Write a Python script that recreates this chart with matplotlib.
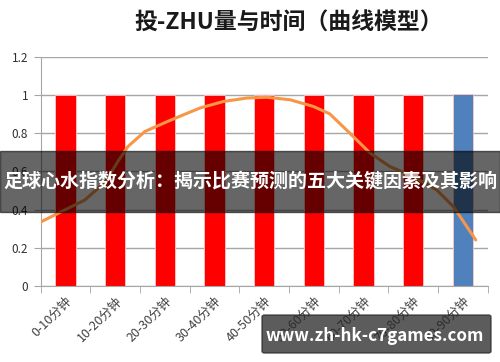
import numpy as np
import matplotlib.pyplot as plt
from matplotlib.patches import Rectangle, FancyBboxPatch

plt.rcParams['font.family'] = ['Noto Sans CJK SC', 'DejaVu Sans']

# data
categories = ['0-10分钟', '10-20分钟', '20-30分钟', '30-40分钟', '40-50分钟',
              '50-60分钟', '60-70分钟', '70-80分钟', '80-90分钟']
bar_values = [1, 1, 1, 1, 1, 1, 1, 1, 1.005]
bar_colors = ['#FF0000'] * 8 + ['#4F81BD']

# smooth curve (x in category units)
curve_x = [-0.48, -0.08, 0.39, 0.80, 1.06, 1.26, 1.60, 2.07, 2.40, 2.71,
           3.18, 3.65, 4.05, 4.52, 4.99, 5.32, 5.72, 6.13, 6.53, 7.00,
           7.47, 7.81, 8.08, 8.26]
curve_y = [0.338, 0.390, 0.451, 0.545, 0.655, 0.732, 0.810, 0.864, 0.900,
           0.933, 0.967, 0.985, 0.989, 0.976, 0.941, 0.902, 0.802, 0.697,
           0.626, 0.574, 0.504, 0.416, 0.311, 0.241]

title = '投-ZHU量与时间（曲线模型）'
banner = '足球心水指数分析：揭示比赛预测的五大关键因素及其影响'
watermark = 'www.zh-hk-c7games.com'

fig = plt.figure(figsize=(5, 3.62), dpi=100)
ax = fig.add_axes([0.0814, 0.21, 0.894, 0.6325])

x = np.arange(len(categories))
ax.bar(x, bar_values, width=0.41, color=bar_colors, edgecolor='#FFC8C8',
       linewidth=0.6, zorder=2)
ax.plot(curve_x, curve_y, color='#F79646', linewidth=2.2,
        solid_capstyle='round', solid_joinstyle='round', zorder=3)

ax.set_xlim(-0.5, len(categories) - 0.5)
ax.set_ylim(0, 1.2)
ax.set_yticks([0, 0.2, 0.4, 0.6, 0.8, 1.0, 1.2])
ax.set_yticklabels(['0', '0.2', '0.4', '0.6', '0.8', '1', '1.2'],
                   fontsize=8.5, color='#303030')
ax.yaxis.grid(True, color='#A6A6A6', linewidth=1, zorder=0)
ax.set_axisbelow(True)

ax.set_xticks(x)
ax.set_xticklabels(categories, rotation=45, ha='right',
                   rotation_mode='anchor', fontsize=9, color='#404040')
ax.set_xticks(np.arange(-0.5, len(categories)), minor=True)
ax.tick_params(axis='x', which='major', length=0, pad=6)
ax.tick_params(axis='x', which='minor', length=5, color='#A6A6A6')
ax.tick_params(axis='y', length=5, color='#A6A6A6', pad=4)

for side in ['top', 'right']:
    ax.spines[side].set_visible(False)
for side in ['left', 'bottom']:
    ax.spines[side].set_color('#A6A6A6')

fig.text(0.578, 0.936, title, fontsize=16.5, fontweight='bold',
         ha='center', va='center', color='#1A1A1A')

# banner overlay
fig.patches.append(Rectangle((0, 1 - 212 / 362), 1, 61 / 362,
                             transform=fig.transFigure, color='black',
                             alpha=0.6, zorder=10))
fig.text(0.5, 1 - 181 / 362, banner, fontsize=13.7, fontweight='bold',
         ha='center', va='center', color='white', zorder=11)

# watermark box
fig.patches.append(FancyBboxPatch((262 / 500, 1 - 353 / 362), 229 / 500,
                                  38 / 362, boxstyle='round,pad=0,rounding_size=0.005',
                                  transform=fig.transFigure, color='#262626',
                                  alpha=0.75, zorder=10))
fig.text(375 / 500, 1 - 336 / 362, watermark, fontsize=12.2,
         fontweight='bold', ha='center', va='center', color='white',
         zorder=11)

fig.savefig('out.png', dpi=100)
